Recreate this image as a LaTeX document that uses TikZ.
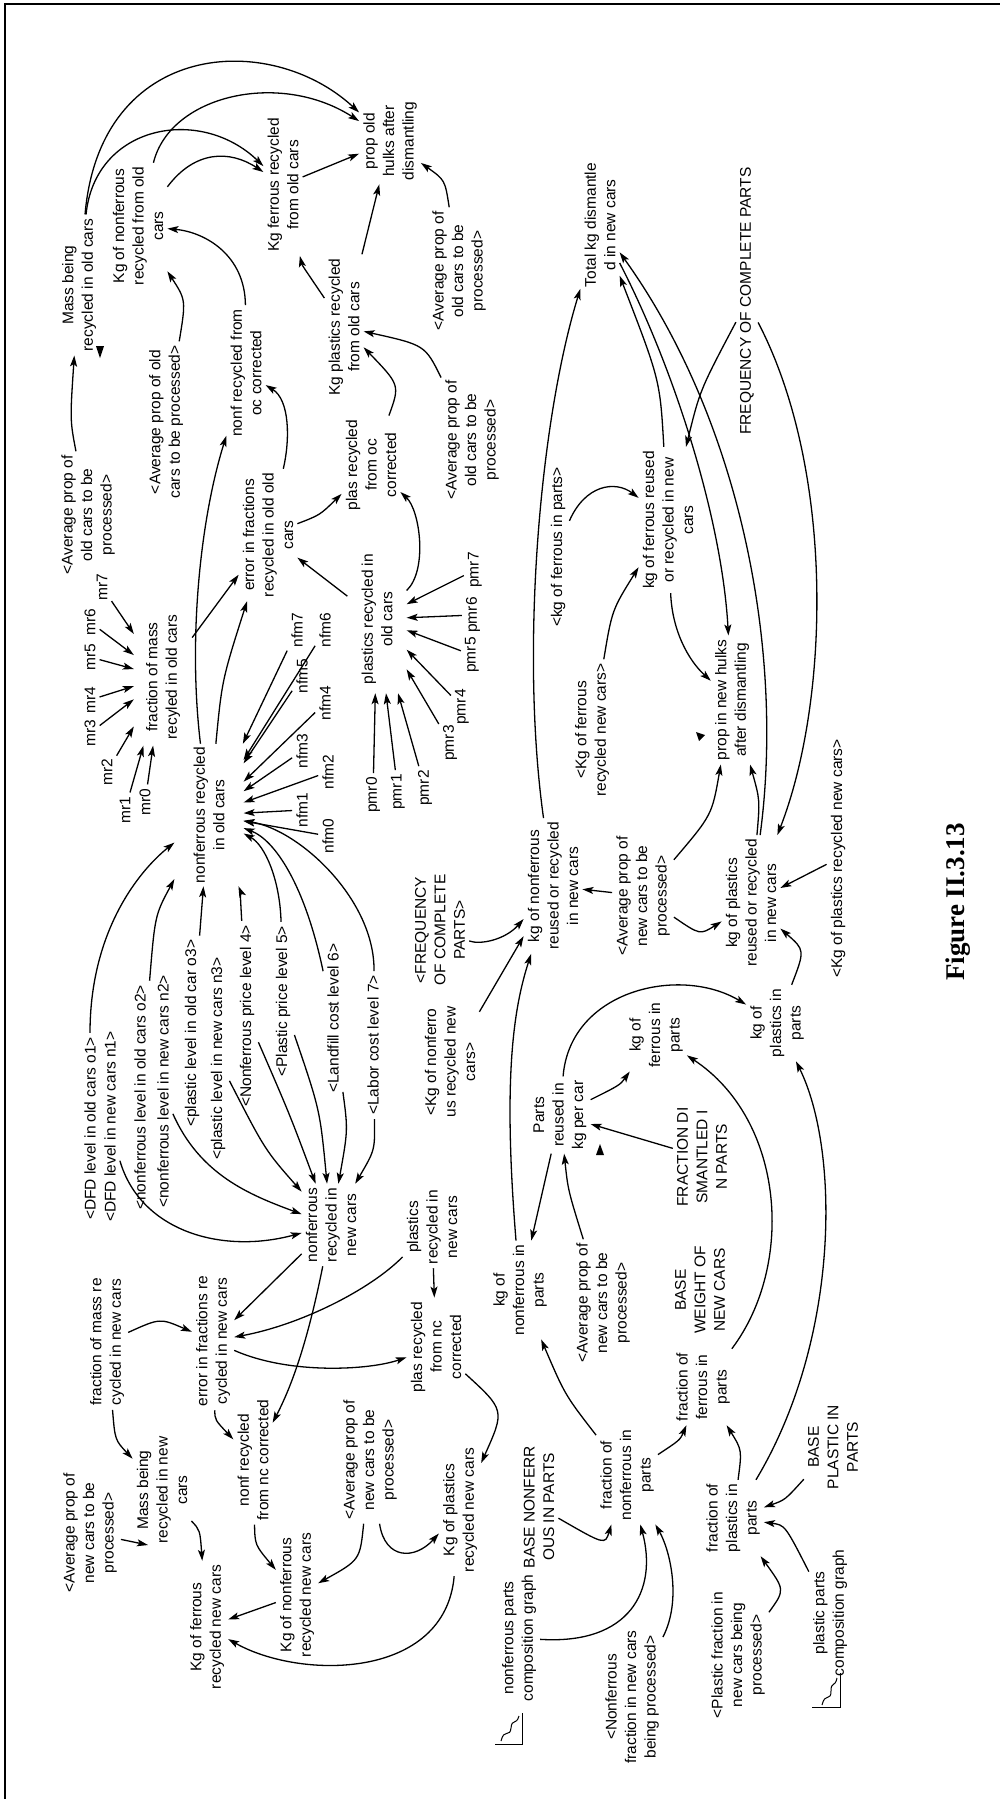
\documentclass[tikz,border=0pt]{standalone}
\usepackage{fontspec}
\setmainfont{Liberation Sans}
\newfontfamily\figfont{Liberation Serif}
\usetikzlibrary{arrows.meta}
\begin{document}
\begin{tikzpicture}[x=1pt,y=-1pt,
  lbl/.style={rotate=90,align=center,inner sep=4pt,font=\fontsize{15.5}{19.5}\selectfont},
  arr/.style={line width=1.3pt,-{Stealth[length=11pt,width=7pt,inset=2.5pt]}},
  icon/.style={line width=1pt}]
\useasboundingbox (0,0) rectangle (1000,1799);
\draw[line width=2.2pt] (1000,4) -- (5,4) -- (5,1799);

% ---------- nodes: old cars (top left) ----------
\node[lbl] (massold) at (79,285) {Mass being\\recycled in old cars};
\node[lbl] (kgnfold) at (138,226) {Kg of nonferrous\\recycled from old\\cars};
\node[lbl] (kgfeold) at (283,185) {Kg ferrous recycled\\from old cars};
\node[lbl] (propold) at (390,141) {prop old\\hulks after\\dismantling};
\node[lbl] (avgoldb) at (166,422) {<Average prop of old\\cars to be processed>};
\node[lbl] (nonfoc) at (246,373) {nonf recycled from\\oc corrected};
\node[lbl] (kgplold) at (344,327) {Kg plastics recycled\\from old cars};
\node[lbl] (avgoldc) at (459,271) {<Average prop of\\old cars to be\\processed>};
\node[lbl] (avgolda) at (88,515) {<Average prop of\\old cars to be\\processed>};
\node[lbl] (avgoldd) at (472,440) {<Average prop of\\old cars to be\\processed>};
\node[lbl,inner ysep=12pt,inner xsep=6pt] (fmassold) at (163,677) {fraction of mass\\recyled in old cars};
\node[lbl] (errold) at (268,535) {error in fractions\\recycled in old old\\cars};
\node[lbl] (plasoc) at (371,465) {plas recycled\\from oc\\corrected};
\node[lbl,inner ysep=19pt,inner xsep=3pt] (nonfold) at (209,815) {nonferrous recycled\\in old cars};
\node[lbl,inner ysep=14pt,inner xsep=9pt] (plasold) at (377,619) {plastics recycled in\\old cars};

\node[lbl] (mr0) at (145,802) {mr0};
\node[lbl] (mr1) at (125,810) {mr1};
\node[lbl] (mr2) at (107,772) {mr2};
\node[lbl] (mr3) at (90,733) {mr3};
\node[lbl] (mr4) at (90,700) {mr4};
\node[lbl] (mr5) at (90,657) {mr5};
\node[lbl] (mr6) at (90,622) {mr6};
\node[lbl] (mr7) at (102,587) {mr7};

\node[lbl] (nfm0) at (328,836) {nfm0};
\node[lbl] (nfm1) at (302,810) {nfm1};
\node[lbl] (nfm2) at (328,772) {nfm2};
\node[lbl] (nfm3) at (302,751) {nfm3};
\node[lbl] (nfm4) at (325,703) {nfm4};
\node[lbl] (nfm5) at (302,676) {nfm5};
\node[lbl] (nfm6) at (325,630) {nfm6};
\node[lbl] (nfm7) at (297,630) {nfm7};

\node[lbl] (pmr0) at (373,795) {pmr0};
\node[lbl] (pmr1) at (398,792) {pmr1};
\node[lbl] (pmr2) at (425,788) {pmr2};
\node[lbl] (pmr3) at (450,743) {pmr3};
\node[lbl] (pmr4) at (462,707) {pmr4};
\node[lbl] (pmr5) at (472,655) {pmr5};
\node[lbl] (pmr6) at (473,615) {pmr6};
\node[lbl] (pmr7) at (475,570) {pmr7};

% ---------- nodes: top right ----------
\node[lbl] (totalkg) at (600,225) {Total kg dismantle\\d in new cars};
\node[lbl,anchor=west] (freq) at (747,439) {FREQUENCY OF COMPLETE PARTS};
\node[lbl,anchor=west] (kgfepartsref) at (558,631) {<kg of ferrous in parts>};
\node[lbl] (kgfenewref) at (592,730) {<Kg of ferrous\\recycled new cars>};
\node[lbl] (kgfereused) at (668,520) {kg of ferrous reused\\or recycled in new\\cars};
\node[lbl] (propnew) at (732,700) {prop in new hulks\\after dismantling};
\node[lbl,anchor=west] (kgplnewref) at (838,982) {<Kg of plastics recycled new cars>};
\node[rotate=90,anchor=west,inner sep=0pt,font=\figfont\bfseries\fontsize{27}{30}\selectfont] (fig) at (958,981) {Figure II.3.13};
\node[lbl] (kgnfreused) at (553,886) {kg of nonferrous\\reused or recycled\\in new cars};
\node[lbl] (avgnew) at (643,896) {<Average prop of\\new cars to be\\processed>};
\node[lbl] (kgplreused) at (751,903) {kg of plastics\\reused or recycled\\in new cars};
\node[lbl] (freqref) at (440,930) {<FREQUENCY\\OF COMPLETE\\PARTS>};
\node[lbl] (kgnfnewref) at (450,1062) {<Kg of nonferro\\us recycled new\\cars>};

% ---------- shadow inputs ----------
\node[lbl,anchor=west] (dfdo1) at (90,1224) {<DFD level in old cars o1>};
\node[lbl,anchor=west] (dfdn1) at (110,1226) {<DFD level in new cars n1>};
\node[lbl,anchor=west] (nonfo2) at (140,1214) {<nonferrous level in old cars o2>};
\node[lbl,anchor=west] (nonfn2) at (163,1212) {<nonferrous level in new cars n2>};
\node[lbl,anchor=west] (plo3) at (192,1131) {<plastic level in old car o3>};
\node[lbl,anchor=west] (pln3) at (218,1164) {<plastic level in new cars n3>};
\node[lbl,anchor=west] (nfp4) at (247,1111) {<Nonferrous price level 4>};
\node[lbl,anchor=west] (pp5) at (283,1081) {<Plastic price level 5>};
\node[lbl,anchor=west] (lf6) at (333,1097) {<Landfill cost level 6>};
\node[lbl,anchor=west] (lab7) at (373,1119) {<Labor cost level 7>};

% ---------- nodes: new cars / parts ----------
\node[lbl] (nonfnew) at (331,1225) {nonferrous\\recycled in\\new cars};
\node[lbl] (plasnew) at (432,1227) {plastics\\recycled in\\new cars};
\node[lbl] (partsreused) at (560,1115) {Parts\\reused in\\kg per car};
\node[lbl] (kgfeparts) at (656,1035) {kg of\\ferrous in\\parts};
\node[lbl] (kgplparts) at (777,1023) {kg of\\plastics in\\parts};
\node[lbl] (fracdis) at (702,1157) {FRACTION DI\\SMANTLED I\\N PARTS};
\node[lbl] (baseweight) at (700,1290) {BASE\\WEIGHT OF\\NEW CARS};
\node[lbl] (kgnfparts) at (520,1290) {kg of\\nonferrous in\\parts};
\node[lbl] (avgnewb) at (603,1303) {<Average prop of\\new cars to be\\processed>};
\node[lbl] (fmassnew) at (107,1342) {fraction of mass re\\cycled in new cars};
\node[lbl] (errnc) at (213,1341) {error in fractions re\\cycled in new cars};
\node[lbl] (plasnc) at (436,1347) {plas recycled\\from nc\\corrected};
\node[lbl] (massnew) at (162,1490) {Mass being\\recycled in new\\cars};
\node[lbl] (avgnewd) at (90,1533) {<Average prop of\\new cars to be\\processed>};
\node[lbl] (nonfnc) at (253,1460) {nonf recycled\\from nc corrected};
\node[lbl] (kgfenew) at (207,1627) {Kg of ferrous\\recycled new cars};
\node[lbl] (kgnfnew) at (297,1595) {Kg of nonferrous\\recycled new cars};
\node[lbl] (avgnewc) at (370,1460) {<Average prop of\\new cars to be\\processed>};
\node[lbl] (kgplnew) at (460,1510) {Kg of plastics\\recycled new cars};
\node[lbl] (fracnf) at (627,1475) {fraction of\\nonferrous in\\parts};
\node[lbl] (fracfe) at (703,1387) {fraction of\\ferrous in\\parts};
\node[lbl] (fracpl) at (733,1518) {fraction of\\plastics in\\parts};
\node[lbl] (basenf) at (539,1507) {BASE NONFERR\\OUS IN PARTS};
\node[lbl] (basepl) at (833,1447) {BASE\\PLASTIC IN\\PARTS};
\node[lbl] (nfgraph) at (519,1638) {nonferrous parts\\composition graph};
\node[lbl] (plgraph) at (830,1613) {plastic parts\\composition graph};
\node[lbl] (nffracref) at (632,1697) {<Nonferrous\\fraction in new cars\\being processed>};
\node[lbl] (plfracref) at (738,1655) {<Plastic fraction in\\new cars being\\processed>};

% ---------- lookup icons ----------
\draw[icon] (495,1744) -- (522,1744) -- (522,1713);
\draw[icon] (501,1741) .. controls (504,1728) and (510,1738) .. (511,1728) .. controls (512,1718) and (516,1726) .. (519,1716);
\draw[icon] (812,1707) -- (840,1707) -- (840,1673);
\draw[icon] (822,1705) .. controls (825,1692) and (831,1702) .. (831,1691) .. controls (831,1681) and (835,1688) .. (837,1678);

% ---------- connectors: old cars ----------
\draw[arr] (massold) .. controls (100,40) and (270,30) .. (propold);
\draw[arr] (kgnfold) .. controls (170,95) and (280,70) .. (propold);
\draw[arr] (massold) .. controls (95,125) and (200,105) .. (kgfeold);
\draw[arr] (kgnfold) .. controls (195,150) and (230,150) .. (kgfeold);
\draw[arr] (kgfeold) -- (propold);
\draw[arr] (avgoldb) .. controls (186,300) .. (kgnfold);
\draw[arr] (nonfoc) .. controls (245,255) and (205,232) .. (kgnfold);
\draw[arr] (kgplold) .. controls (302,265) .. (kgfeold);
\draw[arr] (avgolda) .. controls (70,420) .. (massold);
\draw[arr] (errold) .. controls (290,440) and (290,400) .. (nonfoc);
\draw[arr] (nonfold) .. controls (188,640) and (200,520) .. (nonfoc);
\draw[arr] (fmassold) -- (errold);
\draw[arr] (nonfold) .. controls (222,680) .. (errold);
\draw[arr] (plasold) -- (errold);
\draw[arr] (errold) .. controls (320,515) .. (plasoc);
\draw[arr] (plasold) .. controls (428,570) and (420,510) .. (plasoc);
\draw[arr] (plasoc) .. controls (400,385) .. (kgplold);
\draw[arr] (avgoldd) .. controls (425,345) .. (kgplold);
\draw[arr] (kgplold) -- (propold);
\draw[arr] (avgoldc) .. controls (445,180) .. (propold);
\foreach \i in {0,...,7} {
  \draw[arr] (mr\i) -- (fmassold);
  \draw[arr] (nfm\i) -- (nonfold);
  \draw[arr] (pmr\i) -- (plasold);
}

% ---------- connectors: inputs to nonferrous recycled ----------
\draw[arr] (dfdo1) .. controls (90,930) and (140,870) .. (nonfold);
\draw[arr] (nonfo2) .. controls (155,915) .. (nonfold);
\draw[arr] (plo3) -- (nonfold);
\draw[arr] (nfp4) .. controls (240,890) .. (nonfold);
\draw[arr] (pp5) .. controls (280,880) and (265,845) .. (nonfold);
\draw[arr] (lf6) .. controls (305,885) and (275,840) .. (nonfold);
\draw[arr] (lab7) .. controls (375,900) and (300,830) .. (nonfold);
\draw[arr] (dfdn1) .. controls (140,1230) and (220,1255) .. (nonfnew);
\draw[arr] (nonfn2) .. controls (200,1175) and (250,1195) .. (nonfnew);
\draw[arr] (pln3) .. controls (265,1150) .. (nonfnew);
\draw[arr] (nfp4) .. controls (290,1115) .. (nonfnew);
\draw[arr] (pp5) .. controls (320,1110) .. (nonfnew);
\draw[arr] (lf6) .. controls (348,1130) .. (nonfnew);
\draw[arr] (lab7) .. controls (375,1150) .. (nonfnew);

% ---------- connectors: top right ----------
\draw[arr] (kgnfreused) .. controls (520,650) and (540,420) .. (totalkg);
\draw[arr] (kgfereused) .. controls (660,380) .. (totalkg);
\draw[arr] (kgplreused) .. controls (785,650) and (740,420) .. (totalkg);
\draw[arr] (totalkg) .. controls (675,370) and (722,520) .. (propnew);
\draw[arr] (freq) .. controls (700,390) .. (kgfereused);
\draw[arr] (freq) .. controls (835,470) and (830,700) .. (kgplreused);
\draw[arr] (kgfereused) .. controls (672,630) and (688,660) .. (propnew);
\draw[arr] (kgplreused) .. controls (760,800) .. (propnew);
\draw[arr] (avgnew) .. controls (712,815) .. (propnew);
\draw[arr] (kgplnewref) -- (kgplreused);
\draw[arr] (kgplparts) .. controls (805,950) .. (kgplreused);
\draw[arr] (avgnew) .. controls (700,935) .. (kgplreused);
\draw[arr] (avgnew) -- (kgnfreused);
\draw[arr] (kgfepartsref) .. controls (585,485) and (615,480) .. (kgfereused);
\draw[arr] (kgfenewref) .. controls (612,610) .. (kgfereused);

% ---------- connectors: parts ----------
\draw[arr] (partsreused) -- (kgnfparts);
\draw[arr] (avgnewb) .. controls (568,1190) .. (partsreused);
\draw[arr] (fracdis) -- (partsreused);
\draw[arr] (partsreused) .. controls (620,1085) .. (kgfeparts);
\draw[arr] (partsreused) .. controls (570,990) and (680,965) .. (kgplparts);
\draw[arr] (kgnfparts) .. controls (503,1080) and (513,1010) .. (kgnfreused);
\draw[arr] (freqref) .. controls (480,945) and (505,940) .. (kgnfreused);
\draw[arr] (kgnfnewref) -- (kgnfreused);
\draw[arr] (fracfe) .. controls (795,1265) and (785,1120) .. (kgfeparts);
\draw[arr] (fracpl) .. controls (840,1340) and (840,1150) .. (kgplparts);
\draw[arr] (fracnf) .. controls (565,1395) .. (kgnfparts);
\draw[arr] (fracnf) .. controls (680,1440) .. (fracfe);
\draw[arr] (fracpl) .. controls (742,1450) .. (fracfe);
\draw[arr] (basepl) .. controls (785,1500) .. (fracpl);
\draw[arr] (plgraph) .. controls (785,1525) .. (fracpl);
\draw[arr] (plfracref) .. controls (785,1590) .. (fracpl);
\draw[arr] (basenf) .. controls (605,1545) .. (fracnf);
\draw[arr] (nfgraph) .. controls (630,1645) and (658,1590) .. (fracnf);
\draw[arr] (nffracref) .. controls (682,1600) and (670,1550) .. (fracnf);

% ---------- connectors: new cars ----------
\draw[arr] (fmassnew) .. controls (160,1318) .. (errnc);
\draw[arr] (nonfnew) -- (errnc);
\draw[arr] (plasnew) .. controls (370,1290) and (300,1325) .. (errnc);
\draw[arr] (nonfnew) .. controls (310,1330) and (295,1380) .. (nonfnc);
\draw[arr] (errnc) .. controls (215,1420) .. (nonfnc);
\draw[arr] (errnc) .. controls (290,1375) and (370,1370) .. (plasnc);
\draw[arr] (plasnew) -- (plasnc);
\draw[arr] (fmassnew) .. controls (115,1440) .. (massnew);
\draw[arr] (avgnewd) -- ([shift={(-14,55)}]massnew.center);
\draw[arr] (massnew) .. controls (200,1530) .. (kgfenew);
\draw[arr] (nonfnc) .. controls (255,1545) .. (kgnfnew);
\draw[arr] (avgnewc) .. controls (360,1560) .. (kgnfnew);
\draw[arr] (avgnewc) .. controls (385,1560) and (415,1560) .. (kgplnew);
\draw[arr] (plasnc) .. controls (505,1410) .. (kgplnew);
\draw[arr] (kgplnew) .. controls (445,1680) and (300,1680) .. (kgfenew);
\draw[arr] (kgnfnew) -- (kgfenew);

% ---------- stray arrowheads ----------
\fill (96,346) -- (104,346) -- (100,358) -- cycle;
\fill (696,732) -- (705,735) -- (699,741) -- cycle;
\fill (600,1144) -- (604,1155) -- (596,1155) -- cycle;
\end{tikzpicture}
\end{document}
